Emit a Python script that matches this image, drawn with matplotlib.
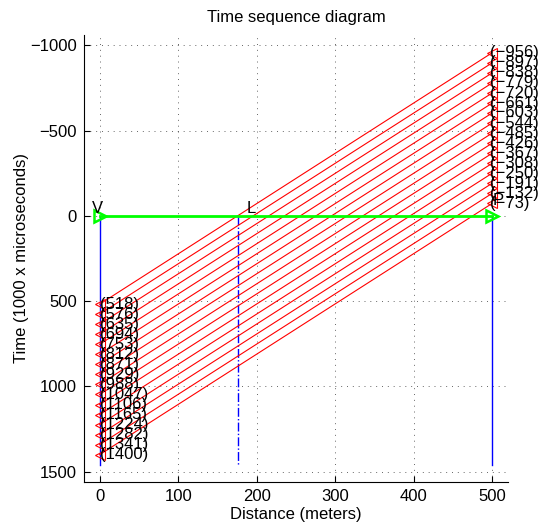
import matplotlib
matplotlib.use("Agg")
import matplotlib.pyplot as plt

plt.rcParams['font.family'] = ['Liberation Sans', 'DejaVu Sans']

# Data
left_times = [518, 576, 635, 694, 753, 812, 871, 929, 988, 1047, 1106, 1165, 1224, 1282, 1341, 1400]
right_times = [-956, -897, -838, -779, -720, -661, -603, -544, -485, -426, -367, -308, -250, -191, -132, -73]
left_x = 0
right_x = 500
station_names = ['V', 'L', 'P']
station_x = [0, 176, 500]
station_styles = ['-', '-.', '-']
station_end = 1460
label_x = [-3, 187, 500]
label_t = [-45, -45, -90]
xticks = [0, 100, 200, 300, 400, 500]
yticks = [-1000, -500, 0, 500, 1000, 1500]

FS = 12

fig = plt.figure(figsize=(5.38, 5.27), dpi=100)
ax = fig.add_axes([0.156, 0.0854, 0.788, 0.8482])

# blue station lines
for sx, ls in zip(station_x, station_styles):
    ax.plot([sx, sx], [0, station_end], color='blue', linestyle=ls, lw=1)

# red signal lines
for lt, rt in zip(left_times, right_times):
    ax.plot([left_x, right_x], [lt, rt], color='red', lw=0.8,
            marker='<', ms=7.5, mfc='none', mec='red', mew=0.8)
    ax.text(left_x + 1, lt, '(%d)' % lt, fontsize=FS, ha='left', va='center')
    ax.text(right_x - 3, rt, '(\u2212%d)' % abs(rt), fontsize=FS, ha='left', va='center')

# green line
ax.plot([station_x[0], station_x[-1]], [0, 0], color=(0, 1, 0), lw=2,
        marker='>', ms=9, mfc='none', mec=(0, 1, 0), mew=1.8)

for nm, lx, lt in zip(station_names, label_x, label_t):
    ax.text(lx, lt, nm, fontsize=FS, ha='center' if nm == 'V' else 'left', va='center')

ax.set_xlim(-20, 520)
ax.set_ylim(1560, -1060)
ax.set_xticks(xticks)
ax.set_yticks(yticks)
ax.set_yticklabels([str(v).replace('-', '\u2212') for v in yticks])
ax.tick_params(direction='in', length=4, labelsize=FS, top=False, right=False, pad=5)
ax.spines['top'].set_visible(False)
ax.spines['right'].set_visible(False)
ax.grid(True, linestyle=(0, (1, 5)), color='k', lw=0.7, alpha=0.6)
ax.set_axisbelow(True)

ax.set_title('Time sequence diagram', fontsize=FS, pad=9)
ax.set_xlabel('Distance (meters)', fontsize=FS, labelpad=2)
ax.set_ylabel('Time (1000 x microseconds)', fontsize=FS, labelpad=1)

fig.savefig('out.png', dpi=100)
